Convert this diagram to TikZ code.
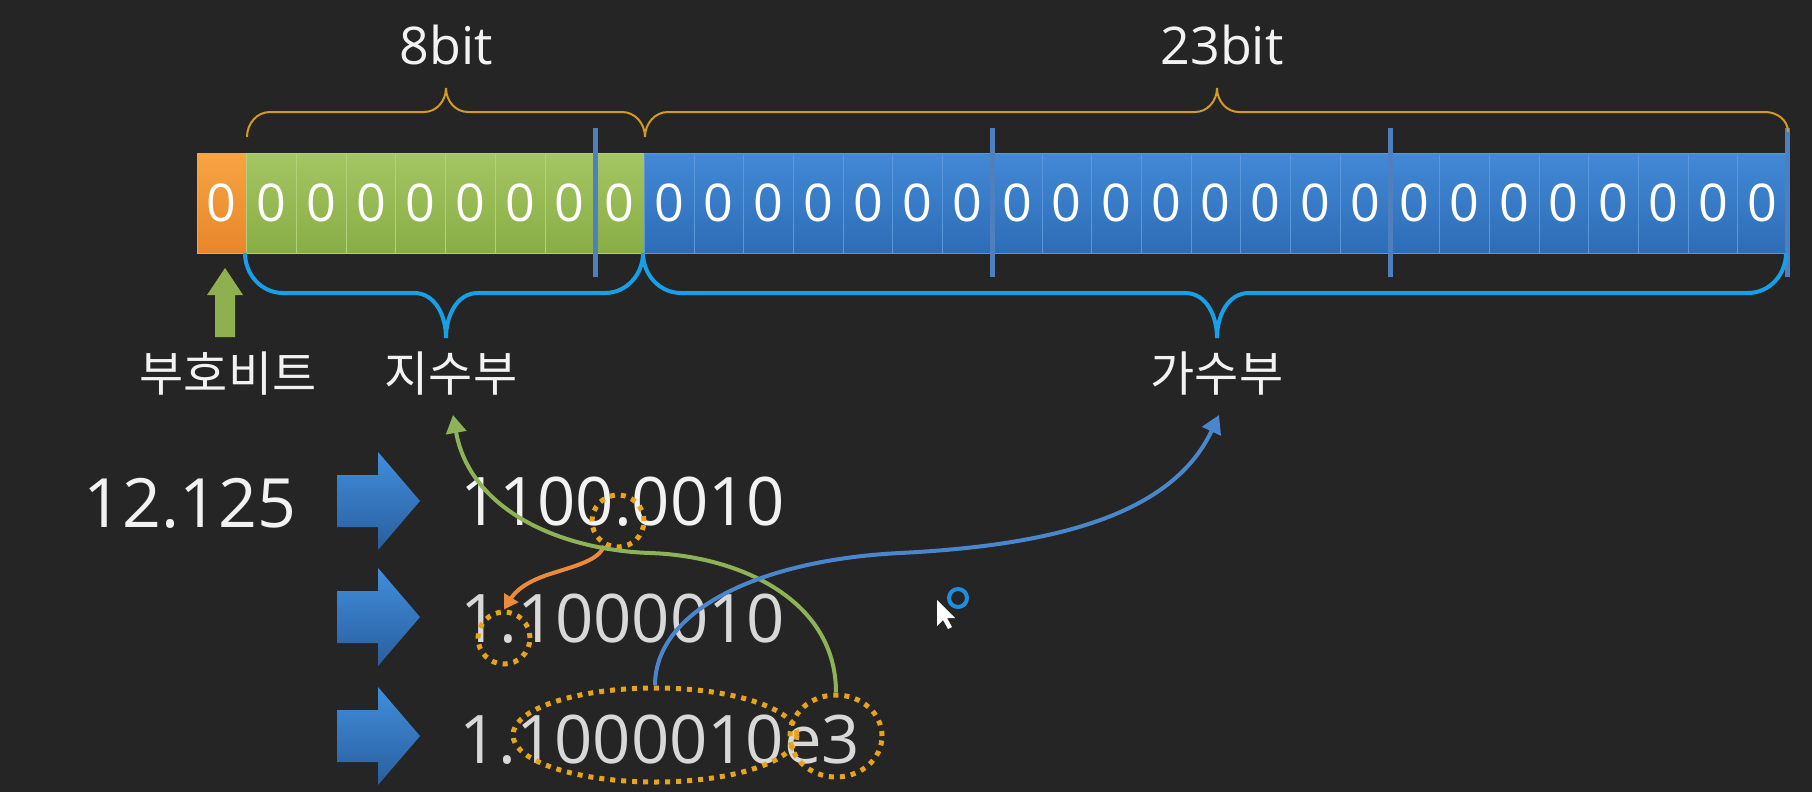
\documentclass[tikz,border=0pt]{standalone}
\usepackage{fontspec}
\setmainfont{Open Sans}
\newfontfamily\krfont{Noto Sans CJK KR}
\usepackage{xcolor}
\usepackage{tikz}
\usetikzlibrary{shapes.geometric, arrows.meta}
\definecolor{bgdark}{HTML}{252525}
\definecolor{orangetop}{HTML}{F7A443}
\definecolor{orangebot}{HTML}{E8862A}
\definecolor{greentop}{HTML}{A4C663}
\definecolor{greenbot}{HTML}{89AD46}
\definecolor{greenline}{HTML}{B3D07A}
\definecolor{bluetop}{HTML}{4289D6}
\definecolor{bluebot}{HTML}{2E6CB6}
\definecolor{blueline}{HTML}{5A98DC}
\definecolor{sepblue}{HTML}{4F7FBF}
\definecolor{braceorange}{HTML}{D49A22}
\definecolor{braceblue}{HTML}{18A0E6}
\definecolor{ringorange}{HTML}{E8A418}
\definecolor{expgreen}{HTML}{8DB356}
\definecolor{mantblue}{HTML}{4A86CB}
\definecolor{pointorange}{HTML}{EC8A3C}
\definecolor{arrowtop}{HTML}{408EDC}
\definecolor{arrowbot}{HTML}{2A5E9E}
\definecolor{signgreen}{HTML}{8FB04E}
\definecolor{textwhite}{HTML}{F2F2F2}
\definecolor{textgray}{HTML}{D8D8D8}
\definecolor{cursorblue}{HTML}{1E8FE0}
\tikzstyle{cell} = [rectangle, line width=0.8pt, minimum width=49.7pt, minimum height=100pt, inner sep=0pt, text=white, font=\fontsize{52}{56}\selectfont]
\tikzstyle{signcell} = [cell, draw=orangetop, top color=orangetop, bottom color=orangebot]
\tikzstyle{expcell} = [cell, draw=greenline, top color=greentop, bottom color=greenbot]
\tikzstyle{mantcell} = [cell, draw=blueline, top color=bluetop, bottom color=bluebot]
\tikzstyle{bytesep} = [draw=sepblue, line width=5pt]
\tikzstyle{topbrace} = [draw=braceorange, line width=2pt]
\tikzstyle{botbrace} = [draw=braceblue, line width=4pt]
\tikzstyle{bitlabel} = [text=textwhite, anchor=base, font=\fontsize{52}{56}\selectfont]
\tikzstyle{krlabel} = [text=textwhite, font=\krfont\fontsize{48}{52}\selectfont]
\tikzstyle{numtext} = [text=textgray, anchor=base, font=\fontsize{67}{70}\selectfont]
\tikzstyle{dotring} = [draw=ringorange, line width=5pt, dash pattern=on 5pt off 6pt, inner sep=0pt]
\tikzstyle{blockarrow} = [top color=arrowtop, bottom color=arrowbot]
\tikzstyle{exparrow} = [draw=expgreen, line width=4pt, -{Triangle[length=18pt, width=20pt]}]
\tikzstyle{mantarrow} = [draw=mantblue, line width=4pt, -{Triangle[length=18pt, width=20pt]}]
\tikzstyle{pointarrow} = [draw=pointorange, line width=4pt, -{Triangle[length=14pt, width=16pt]}]
\tikzset{every node/.style={align=center}}

\begin{document}
\begin{tikzpicture}[x=1pt, y=1pt]
    \useasboundingbox (0,0) rectangle (1812,-792);
    \fill[bgdark] (0,0) rectangle (1812,-792);

    \node (s) [signcell] at (221.85,-203) {0};
    \foreach \i in {1,...,8}
        \node (e\i) [expcell] at ({221.85+49.7*\i},-203) {0};
    \foreach \i in {1,...,23}
        \node (m\i) [mantcell] at ({221.85+49.7*(\i+8)},-203) {0};
    \foreach \c in {e7,m7,m15,m23}
        \draw[bytesep] ([yshift=25pt]\c.north east) -- ([yshift=-24pt]\c.south east);

    \draw[topbrace] (247,-137) to[out=90,in=180] (270,-112) -- (424,-112) to[out=0,in=-90] (446,-88)
        to[out=-90,in=180] (468,-112) -- (622,-112) to[out=0,in=90] (645,-137);
    \draw[topbrace] (645,-137) to[out=90,in=180] (668,-112) -- (1195,-112) to[out=0,in=-90] (1217,-88)
        to[out=-90,in=180] (1239,-112) -- (1765,-112) to[out=0,in=90] (1788,-132);
    \draw[botbrace] (245,-253) to[out=-90,in=180] (283,-293) -- (414,-293) to[out=0,in=90] (446,-338)
        to[out=90,in=180] (478,-293) -- (605,-293) to[out=0,in=-90] (643,-253);
    \draw[botbrace] (643,-253) to[out=-90,in=180] (681,-293) -- (1185,-293) to[out=0,in=90] (1217,-338)
        to[out=90,in=180] (1249,-293) -- (1748,-293) to[out=0,in=-90] (1786,-253);

    \node (bits8) [bitlabel] at (446,-65) {8bit};
    \node (bits23) [bitlabel] at (1222,-65) {23bit};

    \fill[signgreen] (215,-337) -- (215,-295) -- (207,-295) -- (225,-268) -- (243,-295) -- (235,-295) -- (235,-337) -- cycle;
    \node (sign) [krlabel] at (228,-374) {부호비트};
    \node (expo) [krlabel] at (451,-374) {지수부};
    \node (mant) [krlabel] at (1217,-374) {가수부};

    \node (dec) [numtext, text=textwhite, font=\fontsize{68}{70}\selectfont] at (190,-527) {12.125};
    \foreach \r in {501,617,736}
        \shade[blockarrow] (337,{26-\r}) -- (378,{26-\r}) -- (378,{49-\r}) -- (420,-\r) -- (378,{-49-\r}) -- (378,{-26-\r}) -- (337,{-26-\r}) -- cycle;
    \node (bin) [numtext, text=textwhite] at (623,-525) {1100.0010};
    \node (norm) [numtext] at (623,-642) {1.1000010};
    \node (sci) [numtext] at (660,-763) {1.1000010e3};

    \node (dotA) [dotring, circle, minimum size=52pt] at (618,-521) {};
    \node (dotB) [dotring, circle, minimum size=52pt] at (504,-638) {};
    \node (fracring) [dotring, ellipse, minimum width=284pt, minimum height=94pt] at (655,-735) {};
    \node (expring) [dotring, ellipse, minimum width=92pt, minimum height=82pt] at (836,-736) {};

    \coordinate (expotip) at (453,-415);
    \coordinate (manttip) at (1219,-415);
    \draw[pointarrow] (dotA.240) .. controls (600,-560) and (575,-566) .. (550,-574) .. controls (525,-582) and (515,-592) .. (dotB.north);
    \draw[exparrow] (expring.north) .. controls (836,-600) and (740,-556) .. (650,-553) .. controls (560,-550) and (470,-510) .. (expotip);
    \draw[mantarrow] (fracring.north) .. controls (655,-610) and (760,-560) .. (900,-553) .. controls (1040,-546) and (1170,-520) .. (manttip);

    \fill[white] (937,-600) -- (937,-626) -- (943,-620) -- (948,-629) -- (952,-627) -- (947,-618) -- (955,-618) -- cycle;
    \draw[cursorblue, line width=4pt] (958,-598) circle (9);
\end{tikzpicture}
\end{document}
